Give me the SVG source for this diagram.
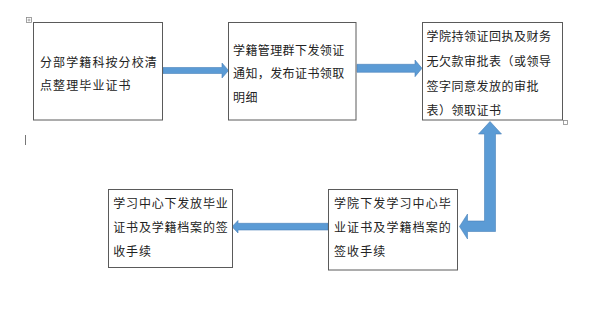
<svg xmlns="http://www.w3.org/2000/svg" width="600" height="320" viewBox="0 0 600 320">
<style>
.box{fill:#fff;stroke:#5a5a5a;stroke-width:1}
.t{font-family:"Noto Sans CJK SC","Noto Sans CJK JP",sans-serif;font-size:12px;fill:#222}
.arr{fill:#5b9bd5;stroke:#4a82b8;stroke-width:0.6;stroke-linejoin:miter}
.art{fill:#fff;stroke:#8a8a8a;stroke-width:0.8}
</style>
<rect width="600" height="320" fill="#fff"/>
<g id="artifacts">
<rect class="art" x="26.5" y="17.5" width="5" height="5"/>
<path d="M27.5 20h3M29 18.5v3" stroke="#8a8a8a" stroke-width="0.7"/>
<rect class="art" x="563.5" y="120.5" width="4" height="4"/>
<line x1="25.5" y1="135" x2="25.5" y2="145" stroke="#777" stroke-width="1"/>
</g>
<g id="connectors">
<polygon class="arr" points="163,67.5 222,67.5 222,63 228.5,70.5 222,78 222,73.5 163,73.5"/>
<polygon class="arr" points="357,64.3 415,64.3 415,60 422,68.3 415,76.7 415,72.3 357,72.3"/>
<polygon class="arr" points="328,223.3 238,223.3 238,220.5 232,226.7 238,233 238,230 328,230"/>
<polygon class="arr" points="490,121.5 501.5,134 495.5,134 495.5,231.5 467.5,231.5 467.5,239 459.5,226.5 467.5,214 467.5,221 484.5,221 484.5,134 478.5,134"/>
</g>
<g id="n1">
<rect class="box" x="33.5" y="22.5" width="129" height="97.5"/>
<text class="t" letter-spacing="1.1"><tspan x="40" y="67">分部学籍科按分校清</tspan><tspan x="40" y="90">点整理毕业证书</tspan></text>
</g>
<g id="n2">
<rect class="box" x="228.5" y="22.5" width="127.5" height="97.5"/>
<text class="t" letter-spacing="0.4"><tspan x="233" y="54.5">学籍管理群下发领证</tspan><tspan x="233" y="78">通知，发布证书领取</tspan><tspan x="233" y="102">明细</tspan></text>
</g>
<g id="n3">
<rect class="box" x="422.5" y="22.5" width="140" height="97.5"/>
<text class="t" letter-spacing="0.5"><tspan x="426.5" y="41">学院持领证回执及财务</tspan><tspan x="426.5" y="66">无欠款审批表（或领导</tspan><tspan x="426.5" y="90.5">签字同意发放的审批</tspan><tspan x="426.5" y="115">表）领取证书</tspan></text>
</g>
<g id="n4">
<rect class="box" x="108.5" y="189.5" width="124" height="78"/>
<text class="t" letter-spacing="0.8"><tspan x="113.3" y="208">学习中心下发放毕业</tspan><tspan x="113.3" y="232">证书及学籍档案的签</tspan><tspan x="113.3" y="256">收手续</tspan></text>
</g>
<g id="n5">
<rect class="box" x="328.5" y="189.5" width="129" height="80.5"/>
<text class="t" letter-spacing="1.1"><tspan x="334" y="207.5">学院下发学习中心毕</tspan><tspan x="334" y="232">业证书及学籍档案的</tspan><tspan x="334" y="256">签收手续</tspan></text>
</g>
</svg>
